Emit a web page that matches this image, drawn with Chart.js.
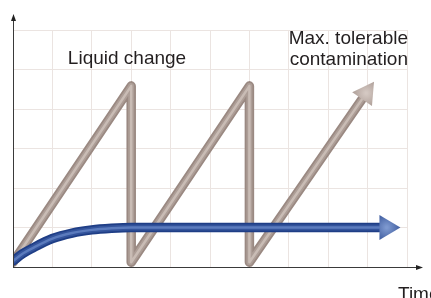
<!DOCTYPE html>
<html>
<head>
<meta charset="utf-8">
<script src="https://cdn.jsdelivr.net/npm/chart.js@4.4.1/dist/chart.umd.min.js"></script>
<style>
  html, body { margin: 0; padding: 0; background: #fff; }
  canvas { display: block; }
</style>
</head>
<body>
<canvas id="grafik" width="431" height="298"></canvas>
<script>
// Data (x = time in grid units, y = contamination in grid units)
const liquidX = [0, 3, 3, 6, 6, 8.86];
const liquidY = [0.12, 4.58, 0.12, 4.58, 0.12, 4.25];

const cleanX = [0, 0.25, 0.5, 1, 1.5, 2, 2.5, 3, 9.3];
const cleanY = [0.15, 0.34, 0.48, 0.72, 0.86, 0.94, 0.98, 1, 1];

const xTicks = [0, 10];
const yTicks = [0, 6];

const labelLiquid = 'Liquid change';
const labelMax = ['Max. tolerable', 'contamination'];
const labelTime = 'Time';

function pts(xs, ys) {
    return xs.map((x, i) => ({ x: x, y: ys[i] }));
}

function tube(xs, ys, colors, widths, tension, baseOrder) {
    return colors.map((c, i) => ({
        data: pts(xs, ys),
        borderColor: c,
        borderWidth: widths[i],
        borderJoinStyle: 'round',
        borderCapStyle: 'round',
        pointRadius: 0,
        fill: false,
        tension: tension,
        cubicInterpolationMode: tension ? 'monotone' : 'default',
        order: baseOrder - i
    }));
}

// garis coklat (penggantian cairan) dan biru
const datasets = [].concat(
    tube(cleanX, cleanY, ['#1f3e86', '#34549c', '#5b7bbd'], [9.5, 6, 2.5], 0.4, 3),
    tube(liquidX, liquidY, ['#9a8982', '#ad9e97', '#c9bcb5'], [9.5, 6, 2.5], 0, 10)
);

function arrowHead(ctx, chart, xs, ys, len, half, c1, c2) {
    const sx = chart.scales.x, sy = chart.scales.y;
    const n = xs.length;
    const bx = sx.getPixelForValue(xs[n - 1]), by = sy.getPixelForValue(ys[n - 1]);
    const px = sx.getPixelForValue(xs[n - 2]), py = sy.getPixelForValue(ys[n - 2]);
    const d = Math.hypot(bx - px, by - py);
    const ux = (bx - px) / d, uy = (by - py) / d;
    const tx = bx + ux * len, ty = by + uy * len;
    const g = ctx.createRadialGradient(bx + ux * len * 0.35, by + uy * len * 0.35, 1,
        bx + ux * len * 0.35, by + uy * len * 0.35, len);
    g.addColorStop(0, c2);
    g.addColorStop(1, c1);
    ctx.beginPath();
    ctx.moveTo(tx, ty);
    ctx.lineTo(bx - uy * half, by + ux * half);
    ctx.lineTo(bx + uy * half, by - ux * half);
    ctx.closePath();
    ctx.fillStyle = g;
    ctx.fill();
}

const extras = {
    id: 'extras',
    afterDatasetsDraw(chart) {
        const ctx = chart.ctx;
        const a = chart.chartArea;
        ctx.save();
        // sumbu
        ctx.strokeStyle = '#3a3a3a';
        ctx.lineWidth = 1;
        ctx.beginPath();
        ctx.moveTo(a.left + 0.5, a.bottom);
        ctx.lineTo(a.left + 0.5, 18);
        ctx.moveTo(a.left, a.bottom + 0.5);
        ctx.lineTo(419, a.bottom + 0.5);
        ctx.stroke();
        ctx.fillStyle = '#222';
        ctx.beginPath();
        ctx.moveTo(a.left + 0.5, 14);
        ctx.lineTo(a.left - 2, 21);
        ctx.lineTo(a.left + 3, 21);
        ctx.closePath();
        ctx.fill();
        ctx.beginPath();
        ctx.moveTo(423, a.bottom + 0.5);
        ctx.lineTo(416, a.bottom - 2);
        ctx.lineTo(416, a.bottom + 3);
        ctx.closePath();
        ctx.fill();

        arrowHead(ctx, chart, liquidX, liquidY, 21, 12, '#9a8982', '#d4c8c2');
        arrowHead(ctx, chart, cleanX, cleanY, 21, 12.5, '#1f3e86', '#7d98cf');

        // teks
        ctx.fillStyle = '#231f20';
        ctx.font = '19px "Liberation Sans", Arial, sans-serif';
        ctx.textBaseline = 'alphabetic';
        ctx.textAlign = 'center';
        ctx.fillText(labelLiquid, 127, 64);
        ctx.textAlign = 'right';
        ctx.fillText(labelMax[0], 408, 44);
        ctx.fillText(labelMax[1], 408, 65);
        ctx.textAlign = 'left';
        ctx.fillText(labelTime, 398, 300);
        ctx.restore();
    }
};

new Chart(document.getElementById('grafik'), {
    type: 'line',
    data: { datasets: datasets },
    options: {
        responsive: false,
        animation: false,
        layout: { padding: { left: 13, right: 24, top: 30, bottom: 31 } },
        plugins: { legend: { display: false }, tooltip: { enabled: false } },
        scales: {
            x: {
                type: 'linear',
                min: xTicks[0],
                max: xTicks[1],
                ticks: { display: false, stepSize: 1 },
                grid: { color: '#ebe4e1', drawTicks: false },
                border: { display: false }
            },
            y: {
                type: 'linear',
                min: yTicks[0],
                max: yTicks[1],
                ticks: { display: false, stepSize: 1 },
                grid: { color: '#ebe4e1', drawTicks: false },
                border: { display: false }
            }
        }
    },
    plugins: [extras]
});
</script>
</body>
</html>
